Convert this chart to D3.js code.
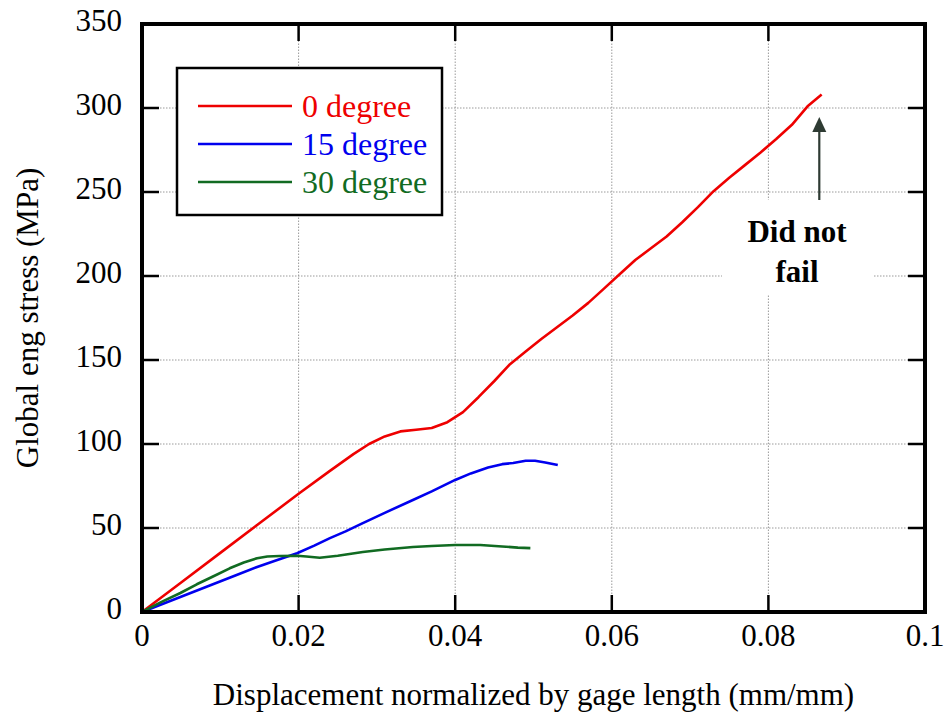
<!DOCTYPE html>
<html>
<head>
<meta charset="utf-8">
<script src="https://cdn.jsdelivr.net/npm/d3@7"></script>
<style>
    body { margin: 0; background: #fff; }
    svg { display: block; }
    text { font-family: "Liberation Serif", "Times New Roman", serif; }
</style>
</head>
<body>
<div id="chart"></div>
<script>
// strain (mm/mm) and stress (MPa)
const strain0 = [0, 0.005, 0.01, 0.015, 0.02, 0.024, 0.027, 0.029, 0.031, 0.033, 0.035, 0.037, 0.039, 0.041, 0.043,
    0.045, 0.047, 0.049, 0.051, 0.053, 0.055, 0.057, 0.059, 0.061, 0.063, 0.065, 0.067, 0.069, 0.071, 0.073,
    0.075, 0.077, 0.079, 0.081, 0.083, 0.085, 0.0868];
const stress0 = [0, 17.6, 35.2, 52.8, 70.4, 84, 94, 100, 104.5, 107.5, 108.5, 109.5, 113, 119, 128,
    137.5, 147.5, 155, 162.5, 169.5, 176.5, 184, 192.5, 201, 209.5, 216.5, 223.5, 232, 241, 250.5,
    258.5, 266, 273.5, 281.5, 290, 301, 308];

const strain15 = [0, 0.004, 0.008, 0.012, 0.0147, 0.017, 0.0198, 0.022, 0.024, 0.026, 0.028, 0.031, 0.0346,
    0.037, 0.04, 0.042, 0.0442, 0.046, 0.0474, 0.049, 0.0502, 0.0515, 0.0531];
const stress15 = [0, 7.3, 14.6, 21.9, 26.8, 30.5, 35, 39.5, 44, 48, 52.5, 59, 66.7,
    71.8, 78.6, 82.5, 86, 88, 88.7, 90, 90, 89, 87.5];

const strain30 = [0, 0.0025, 0.0049, 0.007, 0.009, 0.0112, 0.013, 0.0147, 0.016, 0.0176, 0.0198, 0.021, 0.0227,
    0.025, 0.0282, 0.031, 0.0346, 0.037, 0.04, 0.0432, 0.046, 0.048, 0.0496];
const stress30 = [0, 6, 11.3, 16.5, 21, 26, 29.5, 32, 33, 33.3, 33.5, 33, 32.3,
    33.5, 35.7, 37.2, 38.7, 39.3, 39.9, 39.9, 39, 38.3, 38];

const seriesNames = ["0 degree", "15 degree", "30 degree"];
const seriesColors = ["#ee0000", "#0000ee", "#116b22"];

const xTicks = [0, 0.02, 0.04, 0.06, 0.08, 0.1];
const xTickLabels = ["0", "0.02", "0.04", "0.06", "0.08", "0.1"];
const yTicks = [0, 50, 100, 150, 200, 250, 300, 350];

const series = [
    {name: seriesNames[0], color: seriesColors[0], points: strain0.map((d, i) => [d, stress0[i]])},
    {name: seriesNames[1], color: seriesColors[1], points: strain15.map((d, i) => [d, stress15[i]])},
    {name: seriesNames[2], color: seriesColors[2], points: strain30.map((d, i) => [d, stress30[i]])}
];

const width = 950;
const height = 717;
const margin = {top: 24, right: 25, bottom: 105, left: 142};

const svg = d3.select("#chart").append("svg")
    .attr("width", width)
    .attr("height", height);

const x = d3.scaleLinear().domain([0, 0.1]).range([margin.left, width - margin.right]);
const y = d3.scaleLinear().domain([0, 350]).range([height - margin.bottom, margin.top]);

// dotted grid
const grid = svg.append("g")
    .attr("stroke", "#9a9a9a")
    .attr("stroke-width", 1)
    .attr("stroke-dasharray", "1.5,1.5");

grid.selectAll("line.gx")
    .data(xTicks.slice(1, -1))
    .join("line")
    .attr("class", "gx")
    .attr("x1", d => x(d)).attr("x2", d => x(d))
    .attr("y1", y(0)).attr("y2", y(350));

grid.selectAll("line.gy")
    .data(yTicks.slice(1, -1))
    .join("line")
    .attr("class", "gy")
    .attr("x1", x(0)).attr("x2", x(0.1))
    .attr("y1", d => y(d)).attr("y2", d => y(d));

// curves
const line = d3.line()
    .x(d => x(d[0]))
    .y(d => y(d[1]));

svg.append("g")
    .selectAll("path")
    .data(series)
    .join("path")
    .attr("fill", "none")
    .attr("stroke", d => d.color)
    .attr("stroke-width", 2.6)
    .attr("stroke-linejoin", "round")
    .attr("d", d => line(d.points));

// inward ticks on all four sides
const tickLen = 17;
const axisG = svg.append("g").attr("stroke", "#000").attr("stroke-width", 2.5);

axisG.selectAll("line.tb")
    .data(xTicks.slice(1, -1))
    .join("line")
    .attr("class", "tb")
    .attr("x1", d => x(d)).attr("x2", d => x(d))
    .attr("y1", y(0)).attr("y2", y(0) - tickLen);

axisG.selectAll("line.tt")
    .data(xTicks.slice(1, -1))
    .join("line")
    .attr("class", "tt")
    .attr("x1", d => x(d)).attr("x2", d => x(d))
    .attr("y1", y(350)).attr("y2", y(350) + tickLen);

axisG.selectAll("line.tl")
    .data(yTicks.slice(1, -1))
    .join("line")
    .attr("class", "tl")
    .attr("x1", x(0)).attr("x2", x(0) + tickLen)
    .attr("y1", d => y(d)).attr("y2", d => y(d));

axisG.selectAll("line.tr")
    .data(yTicks.slice(1, -1))
    .join("line")
    .attr("class", "tr")
    .attr("x1", x(0.1)).attr("x2", x(0.1) - tickLen)
    .attr("y1", d => y(d)).attr("y2", d => y(d));

// frame
svg.append("rect")
    .attr("x", x(0)).attr("y", y(350))
    .attr("width", x(0.1) - x(0))
    .attr("height", y(0) - y(350))
    .attr("fill", "none")
    .attr("stroke", "#000")
    .attr("stroke-width", 4);

// tick labels
svg.append("g")
    .selectAll("text")
    .data(xTicks)
    .join("text")
    .attr("x", d => x(d))
    .attr("y", y(0) + 34)
    .attr("text-anchor", "middle")
    .attr("font-size", 31)
    .text((d, i) => xTickLabels[i]);

svg.append("g")
    .selectAll("text")
    .data(yTicks)
    .join("text")
    .attr("x", x(0) - 20)
    .attr("y", d => y(d) + 7)
    .attr("text-anchor", "end")
    .attr("font-size", 31)
    .text(d => d);

// axis titles
svg.append("text")
    .attr("x", (x(0) + x(0.1)) / 2)
    .attr("y", 705)
    .attr("text-anchor", "middle")
    .attr("font-size", 31)
    .text("Displacement normalized by gage length (mm/mm)");

svg.append("text")
    .attr("transform", `translate(38,${(y(0) + y(350)) / 2}) rotate(-90)`)
    .attr("text-anchor", "middle")
    .attr("font-size", 31)
    .text("Global eng stress (MPa)");

// legend
const legend = svg.append("g").attr("transform", "translate(177,68)");

legend.append("rect")
    .attr("width", 265)
    .attr("height", 147)
    .attr("fill", "#fff")
    .attr("stroke", "#000")
    .attr("stroke-width", 2.5);

const rows = legend.selectAll("g.row")
    .data(series)
    .join("g")
    .attr("class", "row")
    .attr("transform", (d, i) => `translate(0,${38 + i * 38})`);

rows.append("line")
    .attr("x1", 21).attr("x2", 115)
    .attr("stroke", d => d.color)
    .attr("stroke-width", 2.6);

rows.append("text")
    .attr("x", 125)
    .attr("y", 11)
    .attr("font-size", 32)
    .attr("fill", d => d.color)
    .text(d => d.name);

// "Did not fail" annotation
const note = svg.append("g");

note.append("rect")
    .attr("x", 722).attr("y", 200)
    .attr("width", 151).attr("height", 95)
    .attr("fill", "#fff");

const arrowX = x(0.0865);
note.append("line")
    .attr("x1", arrowX).attr("x2", arrowX)
    .attr("y1", 200).attr("y2", 130)
    .attr("stroke", "#2e3b33")
    .attr("stroke-width", 2.2);

note.append("path")
    .attr("d", `M${arrowX - 7},132L${arrowX},117L${arrowX + 7},132Z`)
    .attr("fill", "#2e3b33");

note.append("text")
    .attr("x", 797).attr("y", 242)
    .attr("text-anchor", "middle")
    .attr("font-size", 31)
    .attr("font-weight", "bold")
    .text("Did not");

note.append("text")
    .attr("x", 797).attr("y", 282)
    .attr("text-anchor", "middle")
    .attr("font-size", 31)
    .attr("font-weight", "bold")
    .text("fail");
</script>
</body>
</html>
